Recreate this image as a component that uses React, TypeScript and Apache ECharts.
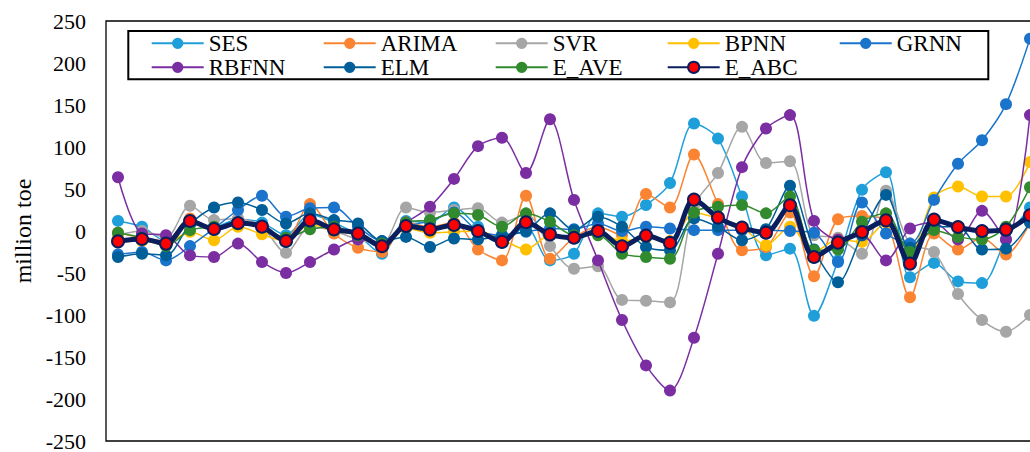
import React, { useEffect, useRef } from "react";
import * as echarts from "echarts";

const categories = Array.from({ length: 39 }, (_, i) => String(i + 1));

const SES = [12, 5, -12, 8, 5, 14, 10, -5, 20, 10, -5, -27, 12, 10, 28, 5, -13, 5, -35, -27, 21, 17, 31, 57, 128, 110, 41, -29, -21, -101, -35, 49, 70, -55, -38, -60, -62, -10, 28];
const ARIMA = [-2, -8, -12, 15, 2, 8, 5, -10, 32, -3, -20, -25, 10, 5, 10, -22, -35, 42, -33, -8, 5, -5, 44, 28, 91, 32, -23, -19, 22, -54, 14, 18, 12, -79, -3, -22, -8, -28, 10];
const SVR = [-5, 0, -8, 30, 13, 15, 5, -26, 5, 0, -10, -15, 28, 22, 25, 27, 10, 20, -18, -45, -42, -82, -83, -85, 30, 69, 124, 81, 83, -5, -8, -27, 48, -15, -25, -75, -106, -120, -100];
const BPNN = [-8, -12, -15, -1, -11, 5, -4, -12, 8, 0, -5, -18, 3, -2, -1, 0, -10, -22, -5, -8, -2, -12, -8, -12, 22, 15, 5, -17, 5, -25, -10, -13, 10, -25, 40, 53, 41, 41, 82];
const GRNN = [-28, -25, -35, -18, 3, 25, 42, 17, 27, 28, 5, -12, 5, 12, 22, 0, -5, -1, 3, 2, 9, 0, 5, 3, 1, 1, 1, 1, 0, -2, -37, 34, -3, -15, 37, 80, 108, 151, 229];
const RBFNN = [64, -3, -5, -29, -31, -15, -37, -50, -37, -22, -10, -13, 10, 29, 62, 101, 111, 69, 133, 37, -35, -106, -160, -190, -127, -27, 76, 122, 138, 12, -10, -5, -35, 3, 10, -10, 24, -10, 138];
const ELM = [-31, -27, -29, 8, 28, 34, 25, 9, 21, 13, 9, -12, -7, -19, -9, -10, -5, 0, 21, 1, 17, 5, -19, -23, 15, 5, -11, 2, 54, -22, -61, -5, 43, -20, 5, 5, -22, -21, 10];
const E_AVE = [-2, -8, -18, 1, 5, 8, 5, -8, 2, 5, -5, -15, 10, 13, 21, 19, 5, 21, 11, -5, -5, -27, -31, -33, 22, 29, 31, 21, 41, -23, -22, 11, 21, -25, 1, -7, -10, 5, 52];
const E_ABC = [-12.3, -9.5, -15, 11.9, 2.4, 9.5, 5.2, -11.9, 12.7, 2, -3, -18.2, 6, 2, 7.1, 0, -13, 10.4, -4, -8, 0, -18.2, -5.5, -14.2, 37.4, 16, 4, -2, 30.6, -31, -13.8, -1.2, 12.7, -38.8, 13.5, 4.8, 0, 1.7, 18.7];

const yTicks = { min: -250, max: 250, interval: 50 };
const yName = "million toe";

const seriesDefs = [
  { name: "SES", data: SES, color: "#1F9FDA" },
  { name: "ARIMA", data: ARIMA, color: "#FB8433" },
  { name: "SVR", data: SVR, color: "#A6A6A6" },
  { name: "BPNN", data: BPNN, color: "#FFC000" },
  { name: "GRNN", data: GRNN, color: "#1A74CC" },
  { name: "RBFNN", data: RBFNN, color: "#7B2DA2" },
  { name: "ELM", data: ELM, color: "#005F99" },
  { name: "E_AVE", data: E_AVE, color: "#318A2E" },
];

const legendCols = [
  ["SES", "RBFNN"],
  ["ARIMA", "ELM"],
  ["SVR", "E_AVE"],
  ["BPNN", "E_ABC"],
  ["GRNN"],
];

const FONT = "Times New Roman, Liberation Serif, DejaVu Serif, serif";

export default function App() {
  const ref = useRef<HTMLDivElement>(null);
  useEffect(() => {
    if (!ref.current) return;
    const chart = echarts.init(ref.current, null, { renderer: "svg" });
    const series: any[] = seriesDefs.map((s, i) => ({
      name: s.name,
      type: "line",
      data: s.data,
      smooth: 0.3,
      symbol: "circle",
      symbolSize: 12,
      z: 2 + i,
      lineStyle: { color: s.color, width: 1.5 },
      itemStyle: { color: s.color },
    }));
    series.push({
      name: "E_ABC",
      type: "line",
      data: E_ABC,
      smooth: 0.3,
      symbol: "circle",
      symbolSize: 12,
      z: 20,
      lineStyle: { color: "#0A1E5E", width: 5 },
      itemStyle: { color: "#FF0000", borderColor: "#0A1E5E", borderWidth: 2 },
    });
    chart.setOption({
      animation: false,
      textStyle: { fontFamily: FONT },
      grid: {
        left: 106,
        top: 21,
        width: 936,
        height: 420,
        show: true,
        borderColor: "#000",
        borderWidth: 1.3,
        containLabel: false,
      },
      xAxis: {
        type: "category",
        data: categories,
        boundaryGap: true,
        axisLine: { show: false },
        axisTick: { show: false },
        axisLabel: { show: false },
        splitLine: { show: false },
      },
      yAxis: {
        type: "value",
        min: yTicks.min,
        max: yTicks.max,
        interval: yTicks.interval,
        axisLine: { show: false },
        axisTick: { show: false },
        splitLine: { show: false },
        axisLabel: { fontFamily: FONT, fontSize: 22, color: "#000", margin: 20 },
        name: yName,
        nameLocation: "middle",
        nameGap: 70,
        nameRotate: 90,
        nameTextStyle: { fontFamily: FONT, fontSize: 24, color: "#000" },
      },
      legend: legendCols.map((d, i) => ({
        data: d,
        orient: "vertical",
        left: 150.7 + 172 * i,
        top: 31.3,
        padding: 0,
        itemGap: 0,
        itemWidth: 52,
        itemHeight: 14,
        selectedMode: false,
        textStyle: { fontFamily: FONT, fontSize: 23, color: "#000", lineHeight: 24 },
      })),
      graphic: [
        {
          type: "rect",
          shape: { x: 128.3, y: 31, width: 860, height: 48.3 },
          style: { fill: "none", stroke: "#000", lineWidth: 2 },
          z: 100,
        },
      ],
      series,
    });
    return () => chart.dispose();
  }, []);
  return (
    <div
      ref={ref}
      style={{ position: "fixed", left: 0, top: 0, width: 1060, height: 452, background: "#fff" }}
    />
  );
}
